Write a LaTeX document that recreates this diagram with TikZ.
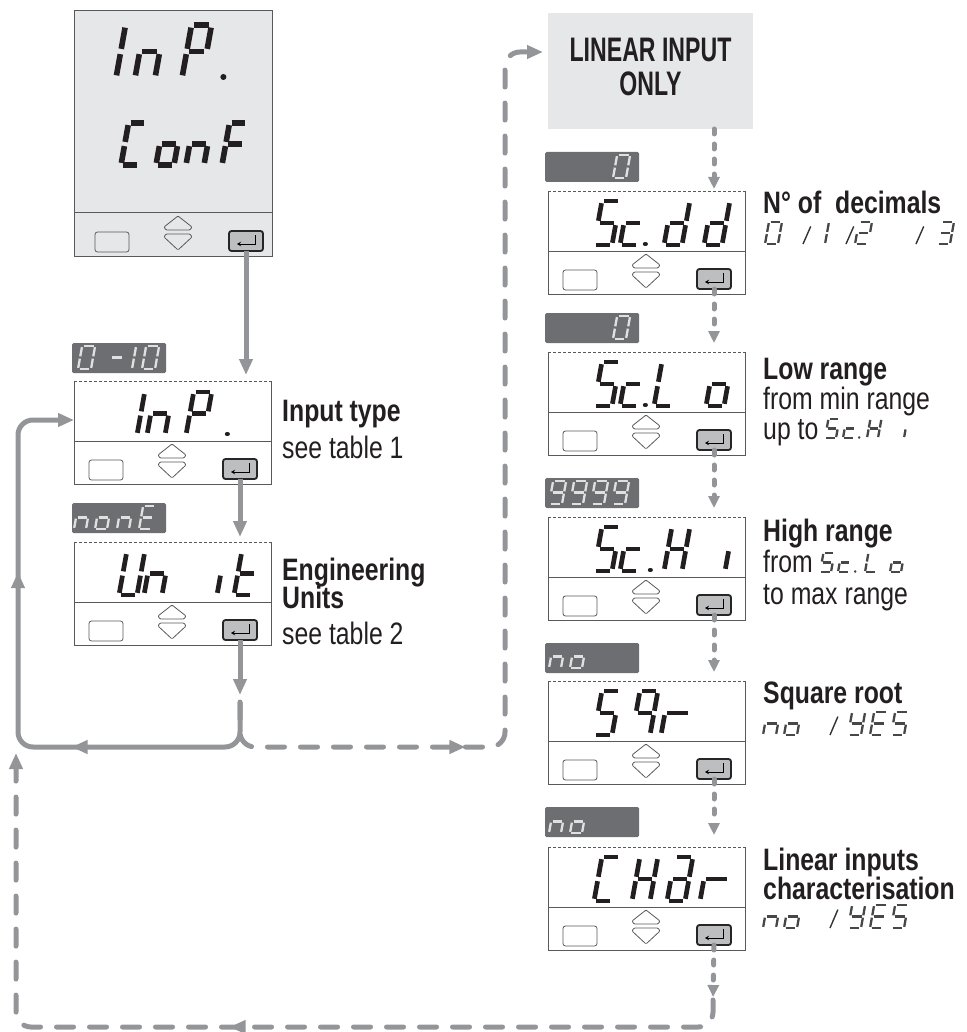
\documentclass[tikz,border=0pt]{standalone}
\usepackage{fontspec}
\setmainfont{Liberation Sans}[FakeStretch=0.8]
\newfontfamily\narrowfont{Liberation Sans}[FakeStretch=0.68]
\usetikzlibrary{arrows.meta,decorations.markings}

\definecolor{flowgray}{HTML}{939598}
\definecolor{framegray}{HTML}{58595B}
\definecolor{lightfill}{HTML}{E6E7E8}
\definecolor{taggray}{HTML}{6D6E71}
\definecolor{keygray}{HTML}{BCBEC0}
\definecolor{textblack}{HTML}{231F20}

\tikzset{
  frame/.style={draw=framegray,line width=0.8pt},
  devbox/.style={anchor=north west,minimum width=197pt,minimum height=103pt,inner sep=0pt,outer sep=0pt},
  bigbox/.style={anchor=north west,draw=framegray,line width=0.8pt,fill=lightfill,minimum width=198pt,minimum height=246pt,inner sep=0pt,outer sep=0pt},
  linbox/.style={anchor=north west,fill=lightfill,minimum width=205pt,minimum height=116pt,inner sep=0pt,outer sep=0pt},
  linlbl/.style={inner sep=0pt,align=center,text=textblack,font=\fontsize{34}{34}\narrowfont\bfseries},
  tag/.style={anchor=north west,fill=taggray,rounded corners=1.5pt,minimum width=94pt,minimum height=30pt,inner sep=0pt,outer sep=0pt},
  btn/.style={draw=framegray,line width=0.8pt,rounded corners=1pt},
  enterkey/.style={draw=black!85,fill=keygray,line width=1.8pt,rounded corners=2.5pt},
  entersym/.style={draw=black,line width=1pt,-{Stealth[length=4pt,width=4.5pt]}},
  lcd/.style={draw=textblack,line width=4.7pt},
  lcdbig/.style={draw=textblack,line width=5.6pt},
  holseg/.style={draw=black!72,line width=2.3pt},
  negseg/.style={draw=white!88!black,line width=2.3pt},
  slashline/.style={draw=black!80,line width=1.4pt},
  hd/.style={anchor=base west,inner sep=0pt,text=textblack,font=\fontsize{31}{34}\selectfont\bfseries},
  tx/.style={anchor=base west,inner sep=0pt,text=textblack,font=\fontsize{31}{34}\selectfont},
  flow/.style={draw=flowgray,line width=5pt,->},
  dflow/.style={flow,line cap=round,dash pattern=on 17pt off 16pt},
  sflow/.style={draw=flowgray,line width=5pt,line cap=round,dash pattern=on 5pt off 10pt,-{Triangle[length=12pt,width=11pt]}},
  midarrow/.style={postaction={decorate,decoration={markings,mark=at position #1 with {\arrow{>}}}}}
}

% seven segment pieces, cell 1 wide and 2 high, origin bottom left
\newcommand\sega[1]{\draw[#1] (0.12,-2) -- (0.88,-2);}
\newcommand\segb[1]{\draw[#1] (1,-1.9) -- (1,-1.1);}
\newcommand\segc[1]{\draw[#1] (1,-0.9) -- (1,-0.1);}
\newcommand\segd[1]{\draw[#1] (0.12,0) -- (0.88,0);}
\newcommand\sege[1]{\draw[#1] (0,-0.9) -- (0,-0.1);}
\newcommand\segf[1]{\draw[#1] (0,-1.9) -- (0,-1.1);}
\newcommand\segg[1]{\draw[#1] (0.12,-1) -- (0.88,-1);}
\newcommand\segh[1]{\draw[#1] (0.12,-1) -- (1.3,-1);}
\newcommand\segp[1]{\draw[#1,line cap=round] (0,-0.04) -- (0.02,-0.04);}
\newcommand\segz[1]{\draw[slashline] (0,0) -- (0.35,-1.6);}

\def\syI{e,f}
\def\syn{c,e,g}
\def\syP{a,b,e,f,g}
\def\syDot{p}
\def\syC{a,d,e,f}
\def\syo{c,d,e,g}
\def\syF{a,e,f,g}
\def\syU{b,c,d,e,f}
\def\syi{e}
\def\syt{d,e,f,g}
\def\syS{a,c,d,f,g}
\def\syc{d,e,g}
\def\syd{b,c,d,e,g}
\def\syL{d,e,f}
\def\syH{b,c,e,f,g}
\def\syq{a,b,c,f,g}
\def\syr{e,h}
\def\sya{a,b,c,d,e,g}
\def\syY{b,c,d,f,g}
\def\syE{a,d,e,f,g}
\def\syO{a,b,c,d,e,f}
\def\syTwo{a,b,d,e,g}
\def\syThree{a,b,c,d,g}
\def\syNine{a,b,c,d,f,g}
\def\syMinus{g}
\def\sySl{z}

% #1 style, #2 baseline, #3 cell width, #4 cell height, #5 list x/glyph
\newcommand\lcdrow[5][lcd]{%
  \foreach \gx/\gch in {#5}{%
    \edef\segl{\gch}%
    \begin{scope}[shift={(\gx,#2)},xslant=0.18,xscale=#3,yscale=#4/2]
      \foreach \s in \segl {\csname seg\s\endcsname{#1}}
    \end{scope}}}

\newcommand\keypad[2][0]{%
  \begin{scope}[shift={(#2.south west)},xshift=#1pt]
    \draw[btn,rounded corners=2.5pt] (15,-24) rectangle (49,-4);
    \draw[btn] (84,-29) -- (98,-40) -- (112,-29) -- (110,-26) -- (86,-26) -- cycle;
    \draw[btn] (86,-22) -- (110,-22) -- (112,-19) -- (98,-6) -- (84,-19) -- cycle;
    \draw[enterkey] (149,-25) rectangle (183,-5);
    \draw[entersym] (175,-21) -- (175,-12) -- (157,-12);
    \coordinate (#2k) at (166,-5);
  \end{scope}}

\newcommand\panelbox[3]{%
  \node[devbox] (#1) at (#2,#3) {};
  \draw[frame] (#1.north east) |- (#1.south west) -- (#1.north west);
  \draw[frame,dash pattern=on 3pt off 2pt] (#1.north west) -- (#1.north east);
  \draw[frame] ([yshift=-60pt]#1.north west) -- ([yshift=-60pt]#1.north east);
  \keypad{#1}}

\begin{document}
\begin{tikzpicture}[x=1pt,y=-1pt,>={Triangle[length=16pt,width=13pt]}]
\useasboundingbox (0,0) rectangle (966,1032);

\node[bigbox] (conf) at (74,10) {};
\draw[frame] ([yshift=44pt]conf.south west) -- ([yshift=44pt]conf.south east);
\keypad[6]{conf}
\lcdrow[lcdbig]{78}{20}{53}{116/\syI,135/\syn,182/\syP,223/\syDot}
\lcdrow[lcdbig]{165}{18}{42}{121/\syC,156/\syo,186/\syn,222/\syF}

\panelbox{inp}{74}{381}
\panelbox{unit}{74}{542}
\lcdrow{435}{18}{43}{137/\syI,147/\syn,186/\syP,227/\syDot}
\lcdrow{595}{18}{43}{119/\syU,144/\syn,217/\syi,234/\syt}

\node[tag] (inptag) at (72,343) {};
\node[tag] (unittag) at (72,503) {};
\lcdrow[negseg]{369}{13}{23}{78/\syO,108/\syMinus,132/\syI,142/\syO}
\lcdrow[negseg]{529}{12}{23}{74/\syn,95/\syo,117/\syn,139/\syE}

\node[hd] (tinp) at (282,421) {Input type};
\node[tx] (tinp2) at (282,458) {see table 1};
\node[hd] (tunit) at (282,580) {Engineering};
\node[hd] (tunit2) at (282,608) {Units};
\node[tx] (tunit3) at (282,644) {see table 2};

\node[linbox] (lin) at (548,13) {};
\node[linlbl] (lintxt) at ([yshift=4pt]lin.center) {LINEAR INPUT\\ONLY};

\panelbox{scdd}{548}{191}
\panelbox{sclo}{548}{352}
\panelbox{schi}{548}{517}
\panelbox{sqr}{548}{681}
\panelbox{char}{548}{847}
\lcdrow{245}{18}{44}{594/\syS,620/\syc,645/\syDot,664/\syd,704/\syd}
\lcdrow{406}{18}{44}{594/\syS,620/\syc,645/\syDot,654/\syL,706/\syo}
\lcdrow{571}{18}{44}{594/\syS,620/\syc,650/\syDot,664/\syH,725/\syi}
\lcdrow{735}{18}{44}{594/\syS,632/\syq,661/\syr}
\lcdrow{901}{18}{44}{594/\syC,632/\syH,667/\sya,700/\syr}

\node[tag] (scddtag) at (545,152) {};
\node[tag] (sclotag) at (545,313) {};
\node[tag] (schitag) at (545,478) {};
\node[tag] (sqrtag) at (545,643) {};
\node[tag] (chartag) at (545,807) {};
\lcdrow[negseg]{178}{13}{23}{613/\syO}
\lcdrow[negseg]{339}{13}{23}{613/\syO}
\lcdrow[negseg]{504}{13}{23}{549/\syNine,570/\syNine,591/\syNine,612/\syNine}
\lcdrow[negseg]{668}{12}{23}{549/\syn,570/\syo}
\lcdrow[negseg]{833}{12}{23}{549/\syn,570/\syo}

\node[hd] (tdd) at (763,214) {N° of\ \ decimals};
\lcdrow[holseg]{244}{13}{22}{765/\syO,803/\sySl,825/\syI,846/\sySl,855/\syTwo,916/\sySl,937/\syThree}
\node[hd] (tlo) at (763,379) {Low range};
\node[tx] (tlo2) at (763,409) {from min range};
\node[tx] (tlo3) at (763,439) {up to};
\lcdrow[holseg]{438}{11}{19}{825/\syS,843/\syc,859/\syDot,867/\syH,904/\syi}
\node[hd] (thi) at (763,541) {High range};
\node[tx] (thi2) at (763,572) {from};
\lcdrow[holseg]{572}{11}{19}{820/\syS,838/\syc,855/\syDot,865/\syL,890/\syo}
\node[tx] (thi3) at (763,604) {to max range};
\node[hd] (tsq) at (763,703) {Square root};
\lcdrow[holseg]{735}{13}{23}{763/\syn,784/\syo,830/\sySl,848/\syY,870/\syE,891/\syS}
\node[hd] (tch) at (763,870) {Linear inputs};
\node[hd] (tch2) at (763,899) {characterisation};
\lcdrow[holseg]{928}{13}{23}{763/\syn,784/\syo,830/\sySl,848/\syY,870/\syE,891/\syS}

\coordinate (fork) at (240,702);
\coordinate (inpin) at ([yshift=-39pt]inp.north west);
\coordinate (linin) at ([xshift=-5pt,yshift=-39pt]lin.north west);
\coordinate (botr) at (713,1000);
\coordinate (retin) at (16,753);

\draw[flow,shorten >=6pt] (confk) -- (inp.north -| confk);
\draw[flow,shorten >=5pt] (inpk) -- (unit.north -| inpk);
\draw[flow,shorten >=7pt] (unitk) -- (fork);
\draw[dflow,rounded corners=15pt,midarrow=264pt] (fork) |- (505,747) |- (linin);
\draw[flow,rounded corners=15pt,midarrow=207pt,midarrow=429pt] (fork) |- (18,747) |- (inpin);

\draw[sflow,shorten >=2pt] (lin.south -| scddk) -- (scdd.north -| scddk);
\draw[sflow,shorten >=9pt] (scddk) -- (sclo.north -| scddk);
\draw[sflow,shorten >=9pt] (sclok) -- (schi.north -| sclok);
\draw[sflow,shorten >=9pt] (schik) -- (sqr.north -| schik);
\draw[sflow,shorten >=12pt] (sqrk) -- (char.north -| sqrk);
\draw[sflow,shorten >=3pt] (chark) -- (botr);
\draw[dflow,rounded corners=15pt,midarrow=504pt] (botr) |- (16,1027) -- (retin);
\end{tikzpicture}
\end{document}
